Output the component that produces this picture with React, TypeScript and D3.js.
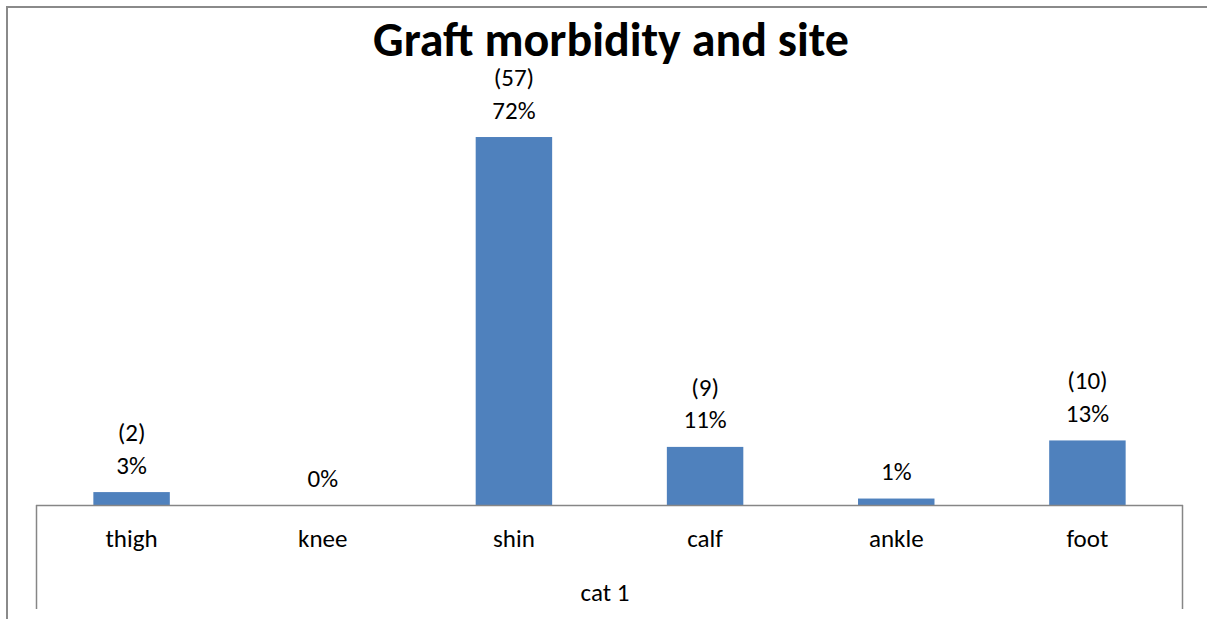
import React from "react";
import * as d3 from "d3";

const categories = ["thigh", "knee", "shin", "calf", "ankle", "foot"];
const counts = [2, 0, 57, 9, 1, 10];
const percentLabels = ["3%", "0%", "72%", "11%", "1%", "13%"];
const countLabels = ["(2)", "", "(57)", "(9)", "", "(10)"];
const groupLabel = "cat 1";
const title = "Graft morbidity and site";

const W = 1207;
const H = 619;
const FONT = "Carlito, Calibri, Lato, 'Open Sans', sans-serif";

export default function App() {
  const total = d3.sum(counts);
  const left = 36;
  const right = 1183;
  const base = 505;
  const x = d3
    .scaleBand<string>()
    .domain(categories)
    .range([left, right])
    .paddingInner(0.6)
    .paddingOuter(0.3);
  const y = d3.scaleLinear().domain([0, 0.8]).range([base, 97]);
  const axisColor = "#868686";
  const fs = 25;

  return (
    <svg
      width={W}
      height={H}
      style={{ position: "absolute", left: 0, top: 0, background: "#fff" }}
      fontFamily={FONT}
    >
      <rect x={0} y={0} width={W} height={H} fill="#fff" />
      <rect
        x={7}
        y={7}
        width={W + 40}
        height={H + 40}
        fill="none"
        stroke="#8a8a8a"
        strokeWidth={2}
      />
      <text
        x={611}
        y={56}
        textAnchor="middle"
        fontSize={48}
        fontWeight="bold"
        fill="#000"
      >
        {title}
      </text>
      {categories.map((c, i) => {
        const v = counts[i] / total;
        const bx = x(c) as number;
        const top = y(v);
        return (
          <g key={c}>
            <rect
              x={bx}
              y={top}
              width={x.bandwidth()}
              height={base - top}
              fill="#4F81BD"
            />
            {countLabels[i] && (
              <text
                x={bx + x.bandwidth() / 2}
                y={top - 51}
                textAnchor="middle"
                fontSize={fs}
                fill="#000"
              >
                {countLabels[i]}
              </text>
            )}
            <text
              x={bx + x.bandwidth() / 2}
              y={top - 18.5}
              textAnchor="middle"
              fontSize={fs}
              fill="#000"
            >
              {percentLabels[i]}
            </text>
            <text
              x={bx + x.bandwidth() / 2}
              y={547}
              textAnchor="middle"
              fontSize={fs}
              fill="#000"
            >
              {c}
            </text>
          </g>
        );
      })}
      <line x1={left} x2={right} y1={base + 0.5} y2={base + 0.5} stroke={axisColor} strokeWidth={1.5} />
      <line x1={left + 0.5} x2={left + 0.5} y1={base} y2={609} stroke={axisColor} strokeWidth={1.5} />
      <line x1={right - 0.5} x2={right - 0.5} y1={base} y2={609} stroke={axisColor} strokeWidth={1.5} />
      <text x={605} y={601} textAnchor="middle" fontSize={fs} fill="#000">
        {groupLabel}
      </text>
    </svg>
  );
}
